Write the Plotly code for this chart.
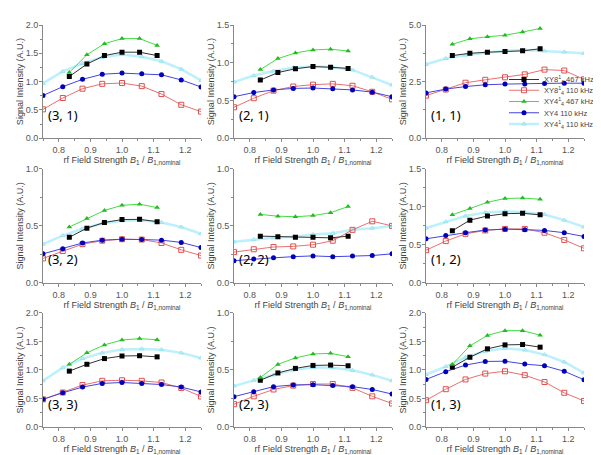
import plotly.graph_objects as go

x110 = [0.75, 0.8125, 0.875, 0.9375, 1.0, 1.0625, 1.125, 1.1875, 1.25]
x467 = [0.8333, 0.8889, 0.9444, 1.0, 1.0556, 1.1111]

series_names = [
    "XY8<sup>1</sup><sub>4</sub> 467 kHz",
    "XY8<sup>1</sup><sub>4</sub> 110 kHz",
    "XY4<sup>1</sup><sub>4</sub> 467 kHz",
    "XY4 110 kHz",
    "XY4<sup>1</sup><sub>4</sub> 110 kHz",
]

panel_labels = [["(3, 1)", "(2, 1)", "(1, 1)"],
                ["(3, 2)", "(2, 2)", "(1, 2)"],
                ["(3, 3)", "(2, 3)", "(1, 3)"]]
y_max = [[2.0, 1.5, 5.0], [1.0, 1.0, 1.5], [2.0, 1.0, 2.0]]
y_dtick = [[0.5, 0.5, 2.5], [0.5, 0.5, 0.5], [0.5, 0.5, 0.5]]
x_ticks = [0.8, 0.9, 1.0, 1.1, 1.2]

# values per panel: XY8 467, XY8 110, XY4 467, XY4 110, XY4^1 110
p31_xy8_467 = [1.09, 1.31, 1.46, 1.52, 1.52, 1.46]
p31_xy8_110 = [0.51, 0.71, 0.875, 0.96, 0.975, 0.92, 0.78, 0.59, 0.47]
p31_xy4_467 = [1.16, 1.475, 1.67, 1.76, 1.76, 1.64]
p31_xy4_110 = [0.755, 0.91, 1.04, 1.13, 1.15, 1.14, 1.12, 1.03, 0.905]
p31_xy41_110 = [0.97, 1.18, 1.32, 1.43, 1.48, 1.44, 1.36, 1.22, 1.02]

p21_xy8_467 = [0.77, 0.87, 0.92, 0.95, 0.94, 0.925]
p21_xy8_110 = [0.41, 0.53, 0.63, 0.685, 0.71, 0.72, 0.695, 0.615, 0.515]
p21_xy4_467 = [0.91, 1.055, 1.13, 1.17, 1.18, 1.155]
p21_xy4_110 = [0.55, 0.605, 0.64, 0.66, 0.665, 0.655, 0.64, 0.61, 0.55]
p21_xy41_110 = [0.745, 0.83, 0.89, 0.935, 0.95, 0.94, 0.905, 0.81, 0.705]

p11_xy8_467 = [3.65, 3.75, 3.8, 3.83, 3.86, 3.95]
p11_xy8_110 = [1.88, 2.15, 2.45, 2.58, 2.69, 2.82, 3.03, 2.99, 2.6]
p11_xy4_467 = [4.15, 4.39, 4.48, 4.55, 4.69, 4.85]
p11_xy4_110 = [2.0, 2.17, 2.28, 2.36, 2.39, 2.39, 2.42, 2.43, 2.43]
p11_xy41_110 = [3.26, 3.52, 3.67, 3.78, 3.86, 3.9, 3.86, 3.81, 3.75]

p32_xy8_467 = [0.40, 0.48, 0.53, 0.555, 0.557, 0.537]
p32_xy8_110 = [0.215, 0.28, 0.34, 0.37, 0.383, 0.38, 0.35, 0.29, 0.24]
p32_xy4_467 = [0.49, 0.565, 0.635, 0.68, 0.69, 0.66]
p32_xy4_110 = [0.255, 0.30, 0.35, 0.375, 0.383, 0.38, 0.375, 0.355, 0.31]
p32_xy41_110 = [0.34, 0.415, 0.475, 0.52, 0.545, 0.55, 0.53, 0.49, 0.43]

p22_xy8_467 = [0.41, 0.405, 0.40, 0.40, 0.395, 0.41]
p22_xy8_110 = [0.27, 0.295, 0.315, 0.32, 0.335, 0.37, 0.465, 0.54, 0.50]
p22_xy4_467 = [0.60, 0.585, 0.58, 0.59, 0.615, 0.67]
p22_xy4_110 = [0.195, 0.21, 0.22, 0.23, 0.237, 0.23, 0.237, 0.24, 0.255]
p22_xy41_110 = [0.36, 0.38, 0.395, 0.405, 0.425, 0.435, 0.465, 0.48, 0.50]

p12_xy8_467 = [0.685, 0.825, 0.88, 0.91, 0.915, 0.895]
p12_xy8_110 = [0.43, 0.55, 0.645, 0.69, 0.71, 0.71, 0.66, 0.565, 0.455]
p12_xy4_467 = [0.895, 0.977, 1.06, 1.11, 1.115, 1.10]
p12_xy4_110 = [0.58, 0.625, 0.66, 0.695, 0.707, 0.70, 0.69, 0.66, 0.61]
p12_xy41_110 = [0.72, 0.805, 0.88, 0.925, 0.94, 0.93, 0.90, 0.825, 0.735]

p33_xy8_467 = [0.98, 1.10, 1.20, 1.245, 1.25, 1.23]
p33_xy8_110 = [0.485, 0.605, 0.735, 0.81, 0.82, 0.81, 0.78, 0.685, 0.535]
p33_xy4_467 = [1.10, 1.30, 1.44, 1.525, 1.55, 1.53]
p33_xy4_110 = [0.485, 0.60, 0.70, 0.765, 0.78, 0.765, 0.745, 0.70, 0.615]
p33_xy41_110 = [0.81, 1.04, 1.20, 1.30, 1.36, 1.37, 1.355, 1.30, 1.21]

p23_xy8_467 = [0.41, 0.474, 0.514, 0.54, 0.543, 0.537]
p23_xy8_110 = [0.20, 0.269, 0.329, 0.363, 0.377, 0.377, 0.343, 0.269, 0.206]
p23_xy4_467 = [0.434, 0.549, 0.606, 0.64, 0.646, 0.617]
p23_xy4_110 = [0.266, 0.309, 0.354, 0.369, 0.371, 0.363, 0.354, 0.329, 0.289]
p23_xy41_110 = [0.36, 0.41, 0.457, 0.50, 0.523, 0.52, 0.497, 0.457, 0.406]

p13_xy8_467 = [1.05, 1.223, 1.371, 1.44, 1.446, 1.40]
p13_xy8_110 = [0.469, 0.663, 0.834, 0.937, 0.977, 0.909, 0.789, 0.60, 0.457]
p13_xy4_467 = [1.097, 1.423, 1.606, 1.69, 1.69, 1.61]
p13_xy4_110 = [0.834, 0.971, 1.086, 1.149, 1.154, 1.103, 1.074, 0.977, 0.829]
p13_xy41_110 = [0.92, 1.06, 1.22, 1.33, 1.38, 1.35, 1.27, 1.14, 0.95]

panels = [
    [(p31_xy8_467, p31_xy8_110, p31_xy4_467, p31_xy4_110, p31_xy41_110),
     (p21_xy8_467, p21_xy8_110, p21_xy4_467, p21_xy4_110, p21_xy41_110),
     (p11_xy8_467, p11_xy8_110, p11_xy4_467, p11_xy4_110, p11_xy41_110)],
    [(p32_xy8_467, p32_xy8_110, p32_xy4_467, p32_xy4_110, p32_xy41_110),
     (p22_xy8_467, p22_xy8_110, p22_xy4_467, p22_xy4_110, p22_xy41_110),
     (p12_xy8_467, p12_xy8_110, p12_xy4_467, p12_xy4_110, p12_xy41_110)],
    [(p33_xy8_467, p33_xy8_110, p33_xy4_467, p33_xy4_110, p33_xy41_110),
     (p23_xy8_467, p23_xy8_110, p23_xy4_467, p23_xy4_110, p23_xy41_110),
     (p13_xy8_467, p13_xy8_110, p13_xy4_467, p13_xy4_110, p13_xy41_110)],
]

W, H = 601, 455
col_px = [(35, 193), (226, 384), (418, 576)]
row_px = [(12.3, 128), (159.3, 276), (306.7, 423.3)]

styles = [
    dict(line=dict(color="#333333", width=1), marker=dict(symbol="square", size=5, color="black")),
    dict(line=dict(color="#E87070", width=1), marker=dict(symbol="square-open", size=5, color="#E05050", line=dict(width=1))),
    dict(line=dict(color="#44DD44", width=1), marker=dict(symbol="triangle-up", size=5, color="#22BB22")),
    dict(line=dict(color="#4444E0", width=1), marker=dict(symbol="circle", size=5, color="#0000BB")),
    dict(line=dict(color="rgba(150,232,250,0.65)", width=2.5), marker=dict(symbol="triangle-up-open", size=4, color="#99E4F0", line=dict(width=1))),
]
xs_for = [x467, x110, x467, x110, x110]
draw_order = [4, 1, 3, 0, 2]

fig = go.Figure()
layout = {}
annotations = []
legend_y_px = [68, 79, 90.5, 102, 113.5]

for r in range(3):
    for c in range(3):
        idx = r * 3 + c + 1
        sfx = "" if idx == 1 else str(idx)
        xa, ya = "x" + sfx, "y" + sfx
        for s in draw_order:
            show = (r == 0 and c == 2)
            fig.add_trace(go.Scatter(
                x=xs_for[s], y=panels[r][c][s], mode="lines+markers",
                name=series_names[s], xaxis=xa, yaxis=ya,
                showlegend=show,
                legend=("legend" if s == 0 else "legend%d" % (s + 1)),
                **styles[s]))
        x0, x1 = col_px[c]
        y0, y1 = row_px[r]
        layout["xaxis" + sfx] = dict(
            domain=[x0 / W, x1 / W], anchor=ya, range=[0.75, 1.25],
            tickvals=x_ticks, tickformat=".1f", ticks="outside", ticklen=3,
            tickcolor="#888", showline=True, linecolor="#888", linewidth=1,
            showgrid=False, zeroline=False,
            minor=dict(dtick=0.05, tick0=0.75, ticks="outside", ticklen=2, tickcolor="#888"),
            tickfont=dict(size=9, color="#555", family="Arial"),
            title=dict(text="rf Field Strength <i>B</i><sub>1</sub> / <i>B</i><sub>1,nominal</sub>",
                       font=dict(size=9, color="#444", family="Arial"), standoff=0),
        )
        layout["yaxis" + sfx] = dict(
            domain=[1 - y1 / H, 1 - y0 / H], anchor=xa, range=[0, y_max[r][c]],
            dtick=y_dtick[r][c], tick0=0, tickformat=".1f", ticks="outside", ticklen=3,
            tickcolor="#888", showline=True, linecolor="#888", linewidth=1,
            showgrid=False, zeroline=False, ticklabelstandoff=-1,
            minor=dict(dtick=y_dtick[r][c] / 2, ticks="outside", ticklen=2, tickcolor="#888"),
            tickfont=dict(size=9, color="#555", family="Arial"),
            title=dict(text="Signal Intensity (A.U.)",
                       font=dict(size=9, color="#444", family="Arial"), standoff=0),
        )
        annotations.append(dict(
            text=panel_labels[r][c], xref="paper", yref="paper",
            x=(x0 + 3) / W, y=1 - (y1 - 24) / H, xanchor="left", yanchor="middle",
            showarrow=False, font=dict(size=13, color="black", family="Noto Sans")))

for i in range(5):
    key = "legend" if i == 0 else "legend%d" % (i + 1)
    layout[key] = dict(
        x=496 / W, y=1 - legend_y_px[i] / H, xanchor="left", yanchor="middle",
        bgcolor="rgba(0,0,0,0)", borderwidth=0, itemwidth=30,
        font=dict(size=7.5, color="#444", family="Arial"))

fig.update_layout(
    width=W, height=H, margin=dict(l=0, r=0, t=0, b=0),
    paper_bgcolor="white", plot_bgcolor="white",
    annotations=annotations, **layout)

fig.write_html("out.html")
